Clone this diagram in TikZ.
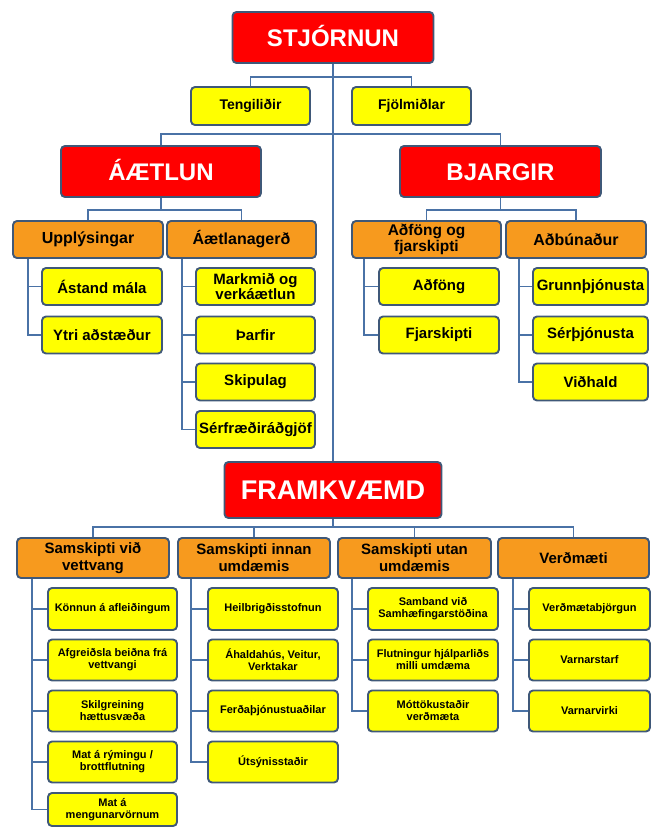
\documentclass[tikz,border=0pt]{standalone}
\usepackage{fontspec}
\setmainfont{Liberation Sans}
\usetikzlibrary{calc}
\definecolor{cred}{HTML}{FF0000}
\definecolor{corange}{HTML}{F79A1E}
\definecolor{cyel}{HTML}{FFFF00}
\definecolor{cborder}{HTML}{3F5878}
\definecolor{cline}{HTML}{4A72A6}
\begin{document}
\begin{tikzpicture}[x=1pt,y=-1pt,
 base/.style={draw=cborder,line width=1.9pt,rounded corners=4pt,inner sep=1pt,align=center},
 sz/.style 2 args={minimum width=#1pt,minimum height=#2pt},
 redbox/.style={base,fill=cred,text=white,font=\bfseries\fontsize{24}{26}\selectfont,text height=17.2pt,text depth=0pt},
 orbox/.style={base,fill=corange,text=black,font=\bfseries\fontsize{16}{15}\selectfont},
 orbot/.style={base,fill=corange,text=black,font=\bfseries\fontsize{15}{17}\selectfont},
 yelbox/.style={base,fill=cyel,text=black,font=\bfseries\fontsize{15}{15}\selectfont},
 yeltop/.style={base,fill=cyel,text=black,font=\bfseries\fontsize{14}{15}\selectfont},
 yelbot/.style={base,fill=cyel,text=black,font=\bfseries\fontsize{11}{12}\selectfont},
 conn/.style={draw=cline,line width=1.7pt}
]
\useasboundingbox[fill=white] (0,0) rectangle (651,828);

% top level
\node[redbox,sz={201}{51}] (stj) at (333,37.5) {STJÓRNUN};
\node[yeltop,sz={119}{38}] (teng) at (250.5,106) {Tengiliðir};
\node[yeltop,sz={119}{38}] (fjol) at (411.5,106) {Fjölmiðlar};
\node[redbox,sz={200}{51}] (aetl) at (161,171.5) {ÁÆTLUN};
\node[redbox,sz={201}{51}] (bjarg) at (500.5,171.5) {BJARGIR};

% ÁÆTLUN branch
\node[orbox,sz={150}{37}] (upp) at (88,239.5) {Upplýsingar};
\node[orbox,sz={149}{37}] (aetlg) at (241.5,239.5) {Áætlanagerð};
\node[yelbox,sz={120}{37}] (ast) at (102,286.5) {Ástand mála};
\node[yelbox,sz={120}{37}] (ytri) at (102,335) {Ytri aðstæður};
\node[yelbox,sz={119}{37}] (mark) at (255.5,286.5) {Markmið og\\verkáætlun};
\node[yelbox,sz={119}{37}] (tharf) at (255.5,335) {Þarfir};
\node[yelbox,sz={119}{37}] (skip) at (255.5,382) {Skipulag};
\node[yelbox,sz={119}{37}] (serf) at (255.5,429.5) {Sérfræðiráðgjöf};

% BJARGIR branch
\node[orbox,sz={149}{37},font=\bfseries\fontsize{15.5}{14.5}\selectfont] (adf) at (426.5,239.5) {Aðföng og\\fjarskipti};
\node[orbox,sz={140}{37}] (adb) at (576,239.5) {Aðbúnaður};
\node[yelbox,sz={120}{37}] (adfong) at (439,286.5) {Aðföng};
\node[yelbox,sz={120}{37}] (fjars) at (439,335) {Fjarskipti};
\node[yelbox,sz={115}{37}] (grunn) at (590.5,286.5) {Grunnþjónusta};
\node[yelbox,sz={115}{37}] (serth) at (590.5,335) {Sérþjónusta};
\node[yelbox,sz={115}{37}] (vidh) at (590.5,382) {Viðhald};

% FRAMKVÆMD
\node[redbox,sz={217}{56},font=\bfseries\fontsize{27}{29}\selectfont,text height=19.3pt] (fram) at (333,490) {FRAMKVÆMD};
\node[orbot,sz={152}{40}] (svv) at (93,558) {Samskipti við\\vettvang};
\node[orbot,sz={152}{40}] (sin) at (254,558) {Samskipti innan\\umdæmis};
\node[orbot,sz={153}{40}] (sut) at (414.5,558) {Samskipti utan\\umdæmis};
\node[orbot,sz={151}{40}] (verd) at (573.5,558) {Verðmæti};

\node[yelbot,sz={129}{42}] (a1) at (112.5,609) {Könnun á afleiðingum};
\node[yelbot,sz={129}{41}] (a2) at (112.5,660) {Afgreiðsla beiðna frá\\vettvangi};
\node[yelbot,sz={129}{41}] (a3) at (112.5,711) {Skilgreining\\hættusvæða};
\node[yelbot,sz={129}{41}] (a4) at (112.5,762) {Mat á rýmingu /\\brottflutning};
\node[yelbot,sz={129}{33}] (a5) at (112.5,809.5) {Mat á\\mengunarvörnum};

\node[yelbot,sz={130}{42}] (b1) at (273,609) {Heilbrigðisstofnun};
\node[yelbot,sz={130}{41}] (b2) at (273,660) {Áhaldahús, Veitur,\\Verktakar};
\node[yelbot,sz={130}{41}] (b3) at (273,711) {Ferðaþjónustuaðilar};
\node[yelbot,sz={130}{41}] (b4) at (273,762) {Útsýnisstaðir};

\node[yelbot,sz={130}{42}] (c1) at (433,609) {Samband við\\Samhæfingarstöðina};
\node[yelbot,sz={130}{41}] (c2) at (433,660) {Flutningur hjálparliðs\\milli umdæma};
\node[yelbot,sz={130}{41}] (c3) at (433,711) {Móttökustaðir\\verðmæta};

\node[yelbot,sz={121}{42}] (d1) at (589.5,609) {Verðmætabjörgun};
\node[yelbot,sz={121}{41}] (d2) at (589.5,660) {Varnarstarf};
\node[yelbot,sz={121}{41}] (d3) at (589.5,711) {Varnarvirki};

% junction coordinates
\coordinate (j1) at (333,77);
\coordinate (j2) at (333,134);
\coordinate (j3) at (161,210);
\coordinate (j4) at (500.5,210);
\coordinate (j5) at (333,527);

% connectors
\draw[conn] (stj.south) -- (fram.north);
\draw[conn] (teng.north) |- (j1) -| (fjol.north);
\draw[conn] (aetl.north) |- (j2) -| (bjarg.north);
\draw[conn] (aetl.south) -- (j3);
\draw[conn] (upp.north) |- (j3) -| (aetlg.north);
\draw[conn] (bjarg.south) -- (j4);
\draw[conn] (adf.north) |- (j4) -| (adb.north);
\draw[conn] (fram.south) -- (j5);
\draw[conn] (svv.north) |- (j5) -| (verd.north);
\draw[conn] (sin.north) -- (sin.north |- j5);
\draw[conn] (sut.north) -- (sut.north |- j5);

\draw[conn] ($(upp.south west)+(16,0)$) |- (ytri.west);
\draw[conn] ($(upp.south west)+(16,0)$) |- (ast.west);
\draw[conn] ($(aetlg.south west)+(16,0)$) |- (serf.west);
\draw[conn] ($(aetlg.south west)+(16,0)$) |- (mark.west);
\draw[conn] ($(aetlg.south west)+(16,0)$) |- (tharf.west);
\draw[conn] ($(aetlg.south west)+(16,0)$) |- (skip.west);
\draw[conn] ($(adf.south west)+(13,0)$) |- (fjars.west);
\draw[conn] ($(adf.south west)+(13,0)$) |- (adfong.west);
\draw[conn] ($(adb.south west)+(14,0)$) |- (vidh.west);
\draw[conn] ($(adb.south west)+(14,0)$) |- (grunn.west);
\draw[conn] ($(adb.south west)+(14,0)$) |- (serth.west);

\foreach \c in {a1,a2,a3,a4,a5} \draw[conn] ($(svv.south west)+(16,0)$) |- (\c.west);
\foreach \c in {b1,b2,b3,b4} \draw[conn] ($(sin.south west)+(14,0)$) |- (\c.west);
\foreach \c in {c1,c2,c3} \draw[conn] ($(sut.south west)+(15,0)$) |- (\c.west);
\foreach \c in {d1,d2,d3} \draw[conn] ($(verd.south west)+(16,0)$) |- (\c.west);
\end{tikzpicture}
\end{document}
